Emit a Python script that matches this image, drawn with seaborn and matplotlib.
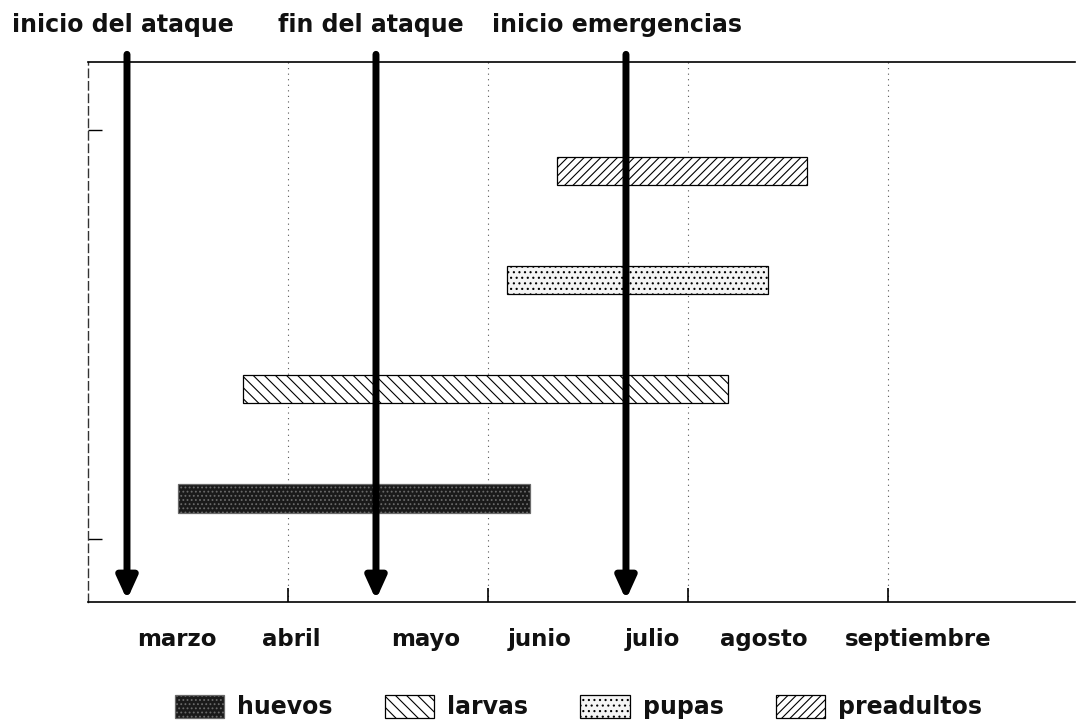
import matplotlib
matplotlib.use("Agg")
import matplotlib.pyplot as plt
import seaborn as sns
from matplotlib.patches import Patch

# Data (x in month-grid units, 0 = left edge of plot)
stages = ["huevos", "larvas", "pupas", "preadultos"]
stage_start = [0.45, 0.775, 2.095, 2.345]
stage_end = [2.21, 3.2, 3.4, 3.595]
stage_pos = [0, 1, 2, 3]

months = ["marzo", "abril", "mayo", "junio", "julio", "agosto", "septiembre"]
month_pos = [0.445, 1.015, 1.69, 2.26, 2.82, 3.38, 4.15]
grid_pos = [1, 2, 3, 4]

events = ["inicio del ataque", "fin del ataque", "inicio emergencias"]
event_pos = [0.195, 1.44, 2.69]
event_text_x = [0.011, 0.257, 0.455]

# Styles
stage_face = ["#1a1a1a", "white", "#f4f4f4", "white"]
stage_edge = ["#6a6a6a", "black", "black", "black"]
stage_hatch = ["....", "\\\\\\", "...", "////"]

sns.set_theme(style="white")
plt.rcParams["font.family"] = ["DejaVu Sans"]
plt.rcParams["hatch.linewidth"] = 0.8

fig = plt.figure(figsize=(10.81, 7.2), dpi=100)
ax = fig.add_axes([0.0814, 0.1639, 0.913, 0.75])

ax.set_xlim(0, 4.935)
ax.set_ylim(-0.95, 4.0)

for x in grid_pos:
    ax.axvline(x, color="#555555", lw=0.8, ls=(0, (1, 4)), zorder=0)

bars = ax.barh(stage_pos, [e - s for s, e in zip(stage_start, stage_end)],
               left=stage_start, height=0.26, zorder=2)
for b, fc, ec, h in zip(bars, stage_face, stage_edge, stage_hatch):
    b.set_facecolor(fc)
    b.set_edgecolor(ec)
    b.set_linewidth(0.9)
    b.set_hatch(h)

for x in event_pos:
    ax.annotate("", xy=(x, -0.93), xytext=(x, 4.07), xycoords="data",
                annotation_clip=False, zorder=4,
                arrowprops=dict(arrowstyle="-|>,head_length=1.1,head_width=0.5",
                                lw=5, color="black", shrinkA=0, shrinkB=0))

for t, x in zip(events, event_text_x):
    fig.text(x, 0.9556, t, fontsize=17, fontweight="bold", ha="left",
             va="baseline", color="#111111")

# axes styling
ax.spines["right"].set_visible(False)
ax.spines["top"].set_color("black")
ax.spines["top"].set_linewidth(1.2)
ax.spines["bottom"].set_color("black")
ax.spines["bottom"].set_linewidth(1.2)
ax.spines["left"].set_color("#333333")
ax.spines["left"].set_linewidth(1.0)
ax.spines["left"].set_linestyle((0, (6, 3)))

ax.set_xticks(grid_pos)
ax.set_xticklabels([])
ax.tick_params(axis="x", which="major", direction="in", length=10, width=1.2,
               color="black", bottom=True)
ax.set_xticks(month_pos, minor=True)
ax.set_xticklabels(months, minor=True, fontsize=16.5, fontweight="bold",
                   color="#111111")
ax.tick_params(axis="x", which="minor", length=0, pad=19)

ax.set_yticks([-0.37, 3.38])
ax.set_yticklabels([])
ax.tick_params(axis="y", direction="in", length=10, width=1.0, color="black", left=True)

handles = [Patch(facecolor=fc, edgecolor=ec, hatch=h, lw=0.9)
           for fc, ec, h in zip(stage_face, stage_edge, stage_hatch)]
leg = fig.legend(handles, stages, loc="center", bbox_to_anchor=(0.535, 0.018), ncol=4,
                 frameon=False, prop={"size": 17, "weight": "bold"},
                 handlelength=2.1, handleheight=1.1,
                 handletextpad=0.55, columnspacing=2.2)
for t in leg.get_texts():
    t.set_color("#111111")

fig.savefig("out.png", dpi=100)
